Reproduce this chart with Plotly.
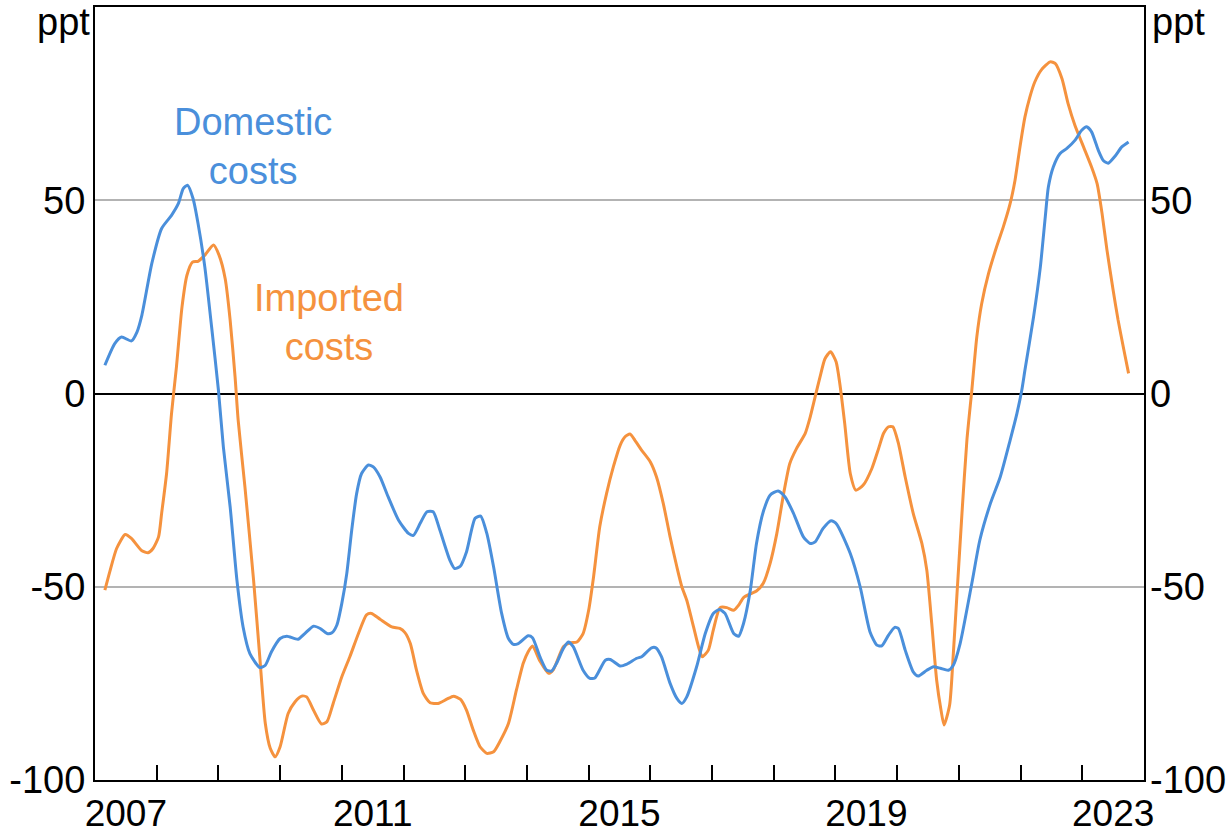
import plotly.graph_objects as go

# Domestic costs (ppt) - fractional year, value
dom_x = [2007.16, 2007.32, 2007.43, 2007.59, 2007.68, 2007.76, 2007.92, 2008.08, 2008.24, 2008.35,
         2008.43, 2008.50, 2008.59, 2008.67, 2008.78, 2008.89, 2009.00, 2009.08, 2009.19, 2009.30,
         2009.40, 2009.51, 2009.67, 2009.76, 2009.86, 2010.00, 2010.11, 2010.29, 2010.40, 2010.54,
         2010.65, 2010.76, 2010.84, 2010.92, 2011.00, 2011.08, 2011.16, 2011.24, 2011.32, 2011.43,
         2011.51, 2011.62, 2011.75, 2011.92, 2012.08, 2012.16, 2012.27, 2012.38, 2012.48, 2012.59,
         2012.75, 2012.83, 2012.92, 2013.02, 2013.16, 2013.25, 2013.35, 2013.46, 2013.59, 2013.70,
         2013.78, 2013.86, 2014.02, 2014.09, 2014.21, 2014.32, 2014.40, 2014.48, 2014.59, 2014.67,
         2014.75, 2014.91, 2015.02, 2015.10, 2015.27, 2015.35, 2015.51, 2015.62, 2015.78, 2015.86,
         2016.02, 2016.09, 2016.18, 2016.32, 2016.43, 2016.51, 2016.59, 2016.75, 2016.89, 2017.02,
         2017.12, 2017.21, 2017.35, 2017.43, 2017.51, 2017.62, 2017.72, 2017.83, 2017.94, 2018.07,
         2018.18, 2018.32, 2018.48, 2018.59, 2018.67, 2018.80, 2018.93, 2019.02, 2019.24, 2019.40,
         2019.56, 2019.67, 2019.75, 2019.86, 2019.96, 2020.02, 2020.13, 2020.26, 2020.34, 2020.48,
         2020.59, 2020.70, 2020.83, 2020.91, 2021.02, 2021.21, 2021.34, 2021.51, 2021.67, 2021.83,
         2021.94, 2022.02, 2022.07, 2022.21, 2022.32, 2022.40, 2022.45, 2022.53, 2022.64, 2022.75,
         2022.88, 2022.99, 2023.07, 2023.15, 2023.26, 2023.34, 2023.42, 2023.53, 2023.64, 2023.75]
dom_y = [7.3, 12.9, 14.6, 13.6, 15.9, 20.3, 33.6, 42.7, 46.1, 49.1,
         53.0, 53.9, 50.4, 44.0, 32.7, 17.2, 0.9, -13.8, -29.3, -48.3,
         -60.4, -67.3, -70.9, -70.3, -66.8, -63.4, -62.8, -63.6, -62.1, -60.2,
         -60.8, -62.1, -61.9, -59.9, -54.3, -46.6, -35.4, -25.9, -20.7, -18.5,
         -19.0, -21.6, -26.7, -32.8, -36.2, -36.7, -33.6, -30.6, -30.6, -35.4,
         -43.1, -45.3, -44.7, -41.0, -32.3, -31.7, -36.2, -44.9, -56.9, -63.4,
         -64.9, -64.7, -62.7, -63.2, -68.1, -71.6, -71.8, -69.8, -66.0, -64.3,
         -65.5, -71.6, -73.7, -73.6, -69.0, -68.8, -70.5, -70.0, -68.5, -68.1,
         -65.8, -65.8, -68.1, -75.0, -78.9, -80.2, -78.5, -70.7, -62.1, -56.9,
         -55.9, -56.9, -62.1, -62.8, -59.5, -50.9, -38.8, -30.6, -26.3, -25.2,
         -26.7, -31.0, -37.1, -38.8, -38.4, -34.9, -32.9, -33.8, -41.4, -50.0,
         -61.7, -65.1, -65.3, -62.5, -60.5, -60.8, -66.4, -72.0, -73.1, -71.6,
         -70.7, -71.1, -71.6, -70.3, -64.7, -49.1, -37.9, -28.5, -21.6, -12.1,
         -5.2, 0.9, 6.0, 19.8, 32.7, 45.7, 53.4, 58.6, 62.1, 63.4,
         65.5, 68.1, 69.0, 67.7, 62.9, 60.3, 59.6, 61.4, 63.8, 65.1]

# Imported costs (ppt)
imp_x = [2007.16, 2007.24, 2007.35, 2007.49, 2007.59, 2007.76, 2007.86, 2007.94, 2008.03, 2008.08,
         2008.16, 2008.24, 2008.32, 2008.41, 2008.49, 2008.58, 2008.67, 2008.78, 2008.92, 2009.01,
         2009.11, 2009.19, 2009.27, 2009.32, 2009.43, 2009.57, 2009.67, 2009.76, 2009.84, 2009.92,
         2010.00, 2010.13, 2010.24, 2010.35, 2010.43, 2010.54, 2010.67, 2010.76, 2010.86, 2011.00,
         2011.13, 2011.27, 2011.40, 2011.48, 2011.62, 2011.81, 2011.94, 2012.02, 2012.11, 2012.21,
         2012.32, 2012.43, 2012.56, 2012.70, 2012.81, 2012.92, 2013.02, 2013.13, 2013.24, 2013.35,
         2013.46, 2013.56, 2013.70, 2013.83, 2013.94, 2014.02, 2014.09, 2014.21, 2014.35, 2014.43,
         2014.59, 2014.70, 2014.81, 2014.91, 2015.00, 2015.08, 2015.18, 2015.29, 2015.40, 2015.51,
         2015.59, 2015.67, 2015.75, 2015.86, 2016.00, 2016.10, 2016.21, 2016.32, 2016.43, 2016.51,
         2016.59, 2016.70, 2016.78, 2016.84, 2016.94, 2017.02, 2017.13, 2017.24, 2017.35, 2017.43,
         2017.51, 2017.64, 2017.72, 2017.83, 2017.94, 2018.05, 2018.16, 2018.26, 2018.37, 2018.51,
         2018.59, 2018.67, 2018.75, 2018.83, 2018.92, 2019.01, 2019.07, 2019.15, 2019.24, 2019.33,
         2019.45, 2019.59, 2019.70, 2019.78, 2019.86, 2019.93, 2020.02, 2020.13, 2020.26, 2020.40,
         2020.48, 2020.56, 2020.64, 2020.71, 2020.76, 2020.85, 2020.91, 2020.97, 2021.05, 2021.13,
         2021.21, 2021.29, 2021.37, 2021.48, 2021.61, 2021.72, 2021.83, 2021.91, 2021.99, 2022.07,
         2022.15, 2022.23, 2022.34, 2022.48, 2022.56, 2022.67, 2022.77, 2022.88, 2023.02, 2023.15,
         2023.24, 2023.32, 2023.40, 2023.50, 2023.58, 2023.67, 2023.75]
imp_y = [-50.9, -46.1, -40.1, -36.5, -37.5, -40.7, -41.2, -40.1, -37.1, -31.0,
         -20.7, -5.2, 6.9, 22.4, 30.6, 34.0, 34.2, 35.8, 38.4, 35.8,
         29.7, 19.0, 4.3, -6.9, -24.2, -48.3, -68.1, -85.4, -91.8, -94.0,
         -91.4, -82.8, -79.8, -78.3, -78.5, -81.9, -85.5, -84.9, -80.2, -73.3,
         -68.1, -62.1, -57.3, -56.9, -58.4, -60.4, -60.8, -61.8, -64.7, -71.6,
         -77.6, -80.0, -80.2, -79.1, -78.3, -79.1, -81.9, -87.1, -91.4, -93.1,
         -92.7, -90.1, -85.4, -76.7, -69.8, -66.8, -65.3, -69.2, -72.4, -71.4,
         -65.5, -64.5, -64.3, -62.1, -56.1, -47.4, -34.5, -25.9, -19.0, -13.4,
         -11.2, -10.5, -12.1, -14.7, -17.7, -21.6, -28.5, -37.1, -44.9, -50.0,
         -53.5, -60.4, -65.5, -68.1, -66.4, -61.2, -55.4, -55.4, -56.1, -54.8,
         -52.8, -51.7, -51.1, -49.1, -44.0, -36.2, -25.9, -18.1, -14.2, -10.3,
         -6.1, -0.9, 4.3, 9.0, 10.8, 8.2, 2.6, -7.8, -20.7, -25.0,
         -23.7, -19.4, -14.2, -10.3, -8.6, -8.6, -12.9, -21.6, -31.0, -38.8,
         -45.7, -59.5, -74.2, -81.9, -85.8, -80.6, -67.3, -51.7, -31.0, -12.1,
         0.9, 14.6, 23.3, 31.0, 37.9, 43.1, 49.1, 55.2, 63.8, 71.5,
         76.7, 80.6, 83.8, 85.8, 85.4, 81.5, 75.0, 69.4, 63.8, 58.6,
         54.3, 46.6, 37.1, 26.7, 19.0, 11.6, 5.2]

year_boundaries = list(range(2008, 2024))
label_years = [2007, 2011, 2015, 2019, 2023]
y_ticks = [-100, -50, 0, 50]

BLUE = "#4A8FDB"
ORANGE = "#F5923E"
FONT = "Arial, Liberation Sans, sans-serif"
FS = 38

fig = go.Figure()
fig.add_trace(go.Scatter(x=imp_x, y=imp_y, mode="lines", name="Imported costs",
                         line=dict(color=ORANGE, width=3, shape="spline", smoothing=0.6)))
fig.add_trace(go.Scatter(x=dom_x, y=dom_y, mode="lines", name="Domestic costs",
                         line=dict(color=BLUE, width=3, shape="spline", smoothing=0.6)))
# invisible trace for right axis
fig.add_trace(go.Scatter(x=[2007, 2024], y=[0, 0], yaxis="y2", mode="lines",
                         line=dict(width=0), hoverinfo="skip", showlegend=False))

fig.update_layout(
    width=1231, height=837,
    margin=dict(l=95, r=87, t=7, b=57, autoexpand=False),
    paper_bgcolor="white", plot_bgcolor="white",
    showlegend=False,
    font=dict(family=FONT, size=FS, color="black"),
    xaxis=dict(
        range=[2007, 2024], tickmode="array", automargin=False,
        tickvals=[y + 0.5 for y in label_years], ticktext=[str(y) for y in label_years],
        ticks="", showgrid=False, zeroline=False,
        showline=True, linecolor="black", linewidth=2, mirror=True,
        ticklabelstandoff=0,
        minor=dict(tickmode="array", tickvals=year_boundaries, ticks="inside",
                   ticklen=15, tickwidth=2, tickcolor="black", showgrid=False),
        tickfont=dict(family=FONT, size=37),
    ),
    yaxis=dict(
        range=[-100, 100], tickmode="array", tickvals=y_ticks, automargin=False,
        ticktext=[str(v) for v in y_ticks], ticks="",
        showgrid=True, gridcolor="#B3B3B3", gridwidth=2,
        zeroline=True, zerolinecolor="black", zerolinewidth=2,
        showline=True, linecolor="black", linewidth=2, mirror=True,
        tickfont=dict(family=FONT, size=FS),
    ),
    yaxis2=dict(
        range=[-100, 100], overlaying="y", side="right", tickmode="array", automargin=False,
        tickvals=y_ticks, ticktext=[str(v) for v in y_ticks], ticks="",
        showgrid=False, zeroline=False, showline=False, ticklabelstandoff=5,
        tickfont=dict(family=FONT, size=FS),
    ),
)

fig.add_annotation(xref="paper", yref="paper", x=0, y=0.981, xanchor="right", yanchor="middle",
                   text="ppt", showarrow=False, xshift=-3, font=dict(family=FONT, size=FS))
fig.add_annotation(xref="paper", yref="paper", x=1, y=0.981, xanchor="left", yanchor="middle",
                   text="ppt", showarrow=False, xshift=6, font=dict(family=FONT, size=FS))
fig.add_annotation(x=2009.56, y=64, text="Domestic<br>costs", showarrow=False,
                   font=dict(family=FONT, size=FS, color=BLUE), align="center")
fig.add_annotation(x=2010.8, y=18.5, text="Imported<br>costs", showarrow=False,
                   font=dict(family=FONT, size=FS, color=ORANGE), align="center")

fig.write_html("out.html", config={"displayModeBar": False},
               post_script="document.body.style.margin='0';")
